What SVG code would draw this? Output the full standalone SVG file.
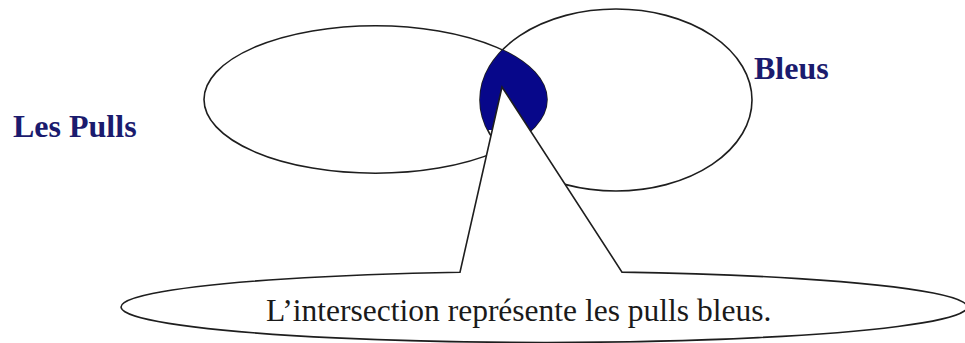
<svg xmlns="http://www.w3.org/2000/svg" width="965" height="343" viewBox="0 0 965 343">
  <style>
    .set { fill: none; stroke: #1e1e1e; stroke-width: 1.6; }
    .label { font-family: "Liberation Serif", "Times New Roman", serif; font-weight: bold; font-size: 32px; fill: #1b1b6e; }
    .callout { fill: #ffffff; stroke: #1e1e1e; stroke-width: 1.6; stroke-linejoin: miter; }
    .ctext { font-family: "Liberation Serif", "Times New Roman", serif; font-size: 31.5px; fill: #1a1a1a; }
  </style>
  <defs>
    <clipPath id="clipL"><ellipse cx="375.5" cy="99.5" rx="171.5" ry="73.7"/></clipPath>
    <clipPath id="clipR"><ellipse cx="616" cy="100" rx="136" ry="91"/></clipPath>
  </defs>
  <rect width="965" height="343" fill="#ffffff"/>

  <g id="pulls">
    <ellipse class="set" cx="375.5" cy="99.5" rx="171.5" ry="73.7"/>
    <text class="label" x="13" y="136.5">Les Pulls</text>
  </g>

  <g id="bleus">
    <ellipse class="set" cx="616" cy="100" rx="136" ry="91"/>
    <text class="label" x="754" y="78.5">Bleus</text>
  </g>

  <g id="intersection">
    <g clip-path="url(#clipL)">
      <g clip-path="url(#clipR)">
        <rect x="470" y="40" width="90" height="90" fill="#07078a"/>
      </g>
    </g>
  </g>

  <g id="connectors"></g>

  <g id="callout">
    <path class="callout" d="M 502,87 L 460,272.2 A 423 35.5 0 1 0 622,272.1 Z"/>
    <text class="ctext" x="266" y="320.5">L’intersection représente les pulls bleus.</text>
  </g>
</svg>
